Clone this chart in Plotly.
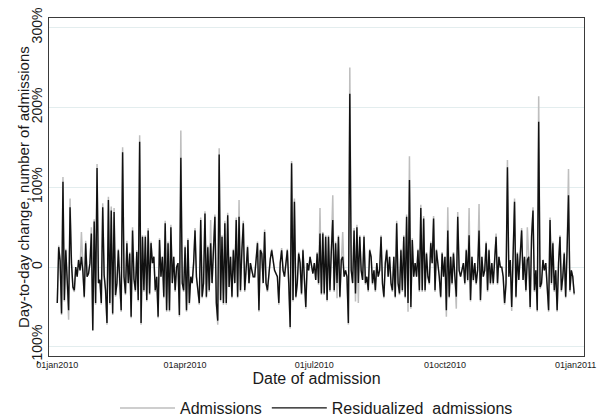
import pandas as pd
import plotly.graph_objects as go

# Daily series, 2010 (percent day-to-day change)
start_date = "2010-01-01"

residualized = [
    # Jan 1 - Feb 28
    -45, 25, 8, -58, 107, -41, 21, -16, -54, 75,
    5, -25, -29, 0, -12, 9, -4, 13, -5, -37,
    30, -12, -8, 5, 42, -79, 57, -45, 124, -20,
    -16, -45, 75, -10, -29, -70, 84, -45, 71, -58,
    69, -35, -20, 21, -25, -54, 144, -12, -33, 30,
    -20, 17, -62, 46, -15, -29, 19, -41, 157,
    # Feb 29 - Apr 24
    -70, 38, -29, 38, -41, 46, -33, 30, 5, 13,
    -29, -12, -62, 34, -12, 13, -37, 55, -54, 30,
    -54, 50, -20, 13, -29, 0, 5, -60,
    137,
    -20, -29, 25, -54, 34, -45, -12, -20, 5, 46,
    -12, -29, -45, 59, -37, -20, 67, -37, 25, -29,
    30, -20, 21, 63, -45, -67,
    141,
    # Apr 25 - Jun 14
    -41, 38, -45, 55, -45, 65,
    -25, 13, -37, 21, -20, 59, -37, 63, -29, 21,
    55, -29, 5, 25, -20, 5, -4, -12, -12, 9,
    30, -54, 21, 17, -20, 44, -20, -29, -8, 10,
    21, 5, -4, -8, -12, -45, 5, 21, -4, -12,
    5, 21, -20, -75,
    130,
    # Jun 15 - Jul 25
    -41, 82, -37, -20, 17, 5, -33, 21, -12, -50,
    5, -4, 13, 0, -8, 5, -16, 17, -20, 42,
    -33, 42, -33, 38, -41, 38, -29, 21, 59, -29,
    30, -20, 38, -37, 9, 13, -12, -4, -12, -70,
    217,
    # Jul 26 - Sep 5
    -4, -20, 46, -33, 50, -20, 38, -4, -16, 38,
    -20, -12, -29, 21, 13, -20, -4, -29, 5, -12,
    -4, 38, -20, -37, 5, 21, -12, 13, -20, -29,
    13, -37, 55, -20, -33, 21, -29, 38, -37, 63,
    -45,
    109,
    # Sep 6 - Nov 8
    -50, 34, -12, 5, -12, 21, -29,
    74,
    -29, 61, -29, 17, -12, -20, 30, 5, 61, -29,
    21, 5, -12, -37, 17, -12, 13, -54,
    46,
    -37, 13, -20, 17, -12, -37,
    63,
    -4, -12, -4, 5, -20, 21, -16,
    40,
    -41, 13, -16, 5, -20, -4,
    46,
    -41, 13, -12, -4, 30, -29, 21, -20, 5, -20, 9, 38, -20, 13, 0,
    # Nov 9 - Dec 31
    0, -12, -45, -20,
    125,
    -12, 9, -50, 13,
    82,
    -37, 17, -16, 13, 46, -16, 13, -29, 9, 13, -50, 38,
    71,
    -29, -4, -54,
    182,
    -25, -20, 9, -4, 5, -20, -54,
    59,
    -20, 30, -29, -4, -54, 5, 38, -29, -12, 17, -37, 21,
    90,
    -29, -4, -12, -33,
]

admissions = [
    # Jan 1 - Feb 28
    -45, 27, 8, -60, 113, -43, 23, -16, -66, 86,
    5, -27, -31, 0, -12, 9, -4, 44, -5, -39,
    33, -12, -8, 5, 50, -80, 60, -47, 129, -20,
    -16, -47, 80, -10, -31, -72, 88, -47, 76, -60,
    74, -37, -20, 23, -27, -56, 150, -12, -35, 33,
    -20, 19, -64, 50, -15, -31, 21, -43, 165,
    # Feb 29 - Apr 24
    -72, 40, -31, 40, -43, 49, -35, 32, 5, 13,
    -31, -12, -64, 36, -12, 13, -39, 58, -56, 32,
    -56, 53, -20, 13, -31, 0, 5, -62,
    171,
    -20, -31, 27, -56, 36, -47, -12, -20, 5, 49,
    -12, -31, -47, 62, -39, -20, 70, -39, 27, -31,
    59, -20, 23, 66, -47, -72,
    149,
    # Apr 25 - Jun 14
    -43, 40, -47, 58, -47, 68,
    -25, 13, -39, 23, -20, 62, -39, 84, -31, 23,
    58, -31, 5, 27, -20, 5, -4, -12, -12, 9,
    32, -56, 23, 19, -20, 47, -20, -31, -8, 10,
    23, 5, -4, -8, -12, -47, 5, 24, -4, -12,
    5, 23, -22, -77,
    133,
    # Jun 15 - Jul 25
    -43, 86, -39, -22, 19, 5, -35, 23, -12, -52,
    5, -4, 13, 0, -8, 5, -16, 19, -22, 74,
    -35, 44, -35, 40, -43, 40, -31, 23, 90, -31,
    32, -39, 40, -39, 9, 44, -12, -4, -12, -72,
    250,
    # Jul 26 - Sep 5
    -4, -20, 49, -43, 53, -45, 40, -4, -16, 40,
    -22, -12, -31, 23, 13, -22, -4, -31, 5, -12,
    -4, 40, -22, -39, 5, 23, -12, 13, -22, -31,
    13, -39, 58, -22, -35, 23, -31, 40, -39, 66,
    -56,
    139,
    # Sep 6 - Nov 8
    -52, 36, -12, 5, -12, 23, -31,
    78,
    -31, 64, -31, 19, -12, -22, 32, 5, 64, -31,
    23, 5, -12, -39, 19, -12, 13, -62,
    75,
    -39, 13, -22, 19, -12, -52,
    69,
    -4, -12, -4, 5, -22, 23, -18,
    74,
    -43, 13, -18, 5, -22, -4,
    79,
    -43, 13, -12, -4, 32, -31, 23, -22, 5, -22, 9, 42, -22, 13, 0,
    # Nov 9 - Dec 31
    0, -12, -47, -22,
    134,
    -12, 9, -55, 13,
    86,
    -39, 19, -16, 13, 49, -16, 13, -31, 50, 13, -52, 40,
    75,
    -31, -4, -56,
    214,
    -27, -22, 9, -4, 5, -22, -56,
    62,
    -22, 32, -31, -4, -56, 5, 40, -31, -12, 19, -39, 23,
    123,
    -31, -4, -12, -35,
]

tick_dates = ["2010-01-01", "2010-04-01", "2010-07-01", "2010-10-01", "2011-01-01"]
tick_labels = ["01jan2010", "01apr2010", "01jul2010", "01oct2010", "01jan2011"]
y_ticks = [-100, 0, 100, 200, 300]
y_labels = ["-100%", "0", "100%", "200%", "300%"]

dates = pd.date_range(start_date, periods=len(residualized), freq="D")

FONT = "Arial, 'Liberation Sans', sans-serif"

fig = go.Figure()
fig.add_trace(go.Scatter(
    x=dates, y=admissions, mode="lines", name="Admissions",
    line=dict(color="#BEBEBE", width=1.5),
))
fig.add_trace(go.Scatter(
    x=dates, y=residualized, mode="lines",
    name="Residualized\u00a0 admissions",
    line=dict(color="#111111", width=1.4),
))

fig.update_layout(
    width=607, height=419,
    margin=dict(l=49, r=23, t=18, b=63, autoexpand=False),
    paper_bgcolor="white", plot_bgcolor="white",
    font=dict(family=FONT, color="#1a1a1a"),
    showlegend=True,
    legend=dict(
        orientation="h", x=0.5, xanchor="center",
        yref="container", y=1 - 408 / 419, yanchor="middle",
        font=dict(size=16, family=FONT),
        itemwidth=55, bgcolor="rgba(0,0,0,0)",
    ),
    annotations=[dict(
        text="Day-to-day change, number of admissions",
        xref="paper", yref="paper", x=-26 / 535, y=0.5,
        xanchor="center", yanchor="middle", textangle=-90,
        showarrow=False, font=dict(size=15, family=FONT, color="#1a1a1a"),
    )],
)

fig.update_xaxes(
    range=["2009-12-26 04:00", "2011-01-06 22:00"],
    tickvals=tick_dates, ticktext=tick_labels,
    tickfont=dict(size=9, family=FONT),
    showgrid=False, zeroline=False, automargin=False,
    showline=True, linecolor="#3a3a3a", linewidth=1.3, mirror=True,
    ticks="",
    title=dict(text="Date of admission", font=dict(size=16, family=FONT), standoff=2),
)

fig.update_yaxes(
    range=[-111.3, 312],
    tickvals=y_ticks, ticktext=y_labels,
    tickangle=-90, tickfont=dict(size=14, family=FONT),
    showgrid=True, gridcolor="#E3EDEE", gridwidth=1,
    zeroline=False, automargin=False,
    showline=True, linecolor="#3a3a3a", linewidth=1.3, mirror=True,
    ticks="",
)

fig.write_html("out.html")
